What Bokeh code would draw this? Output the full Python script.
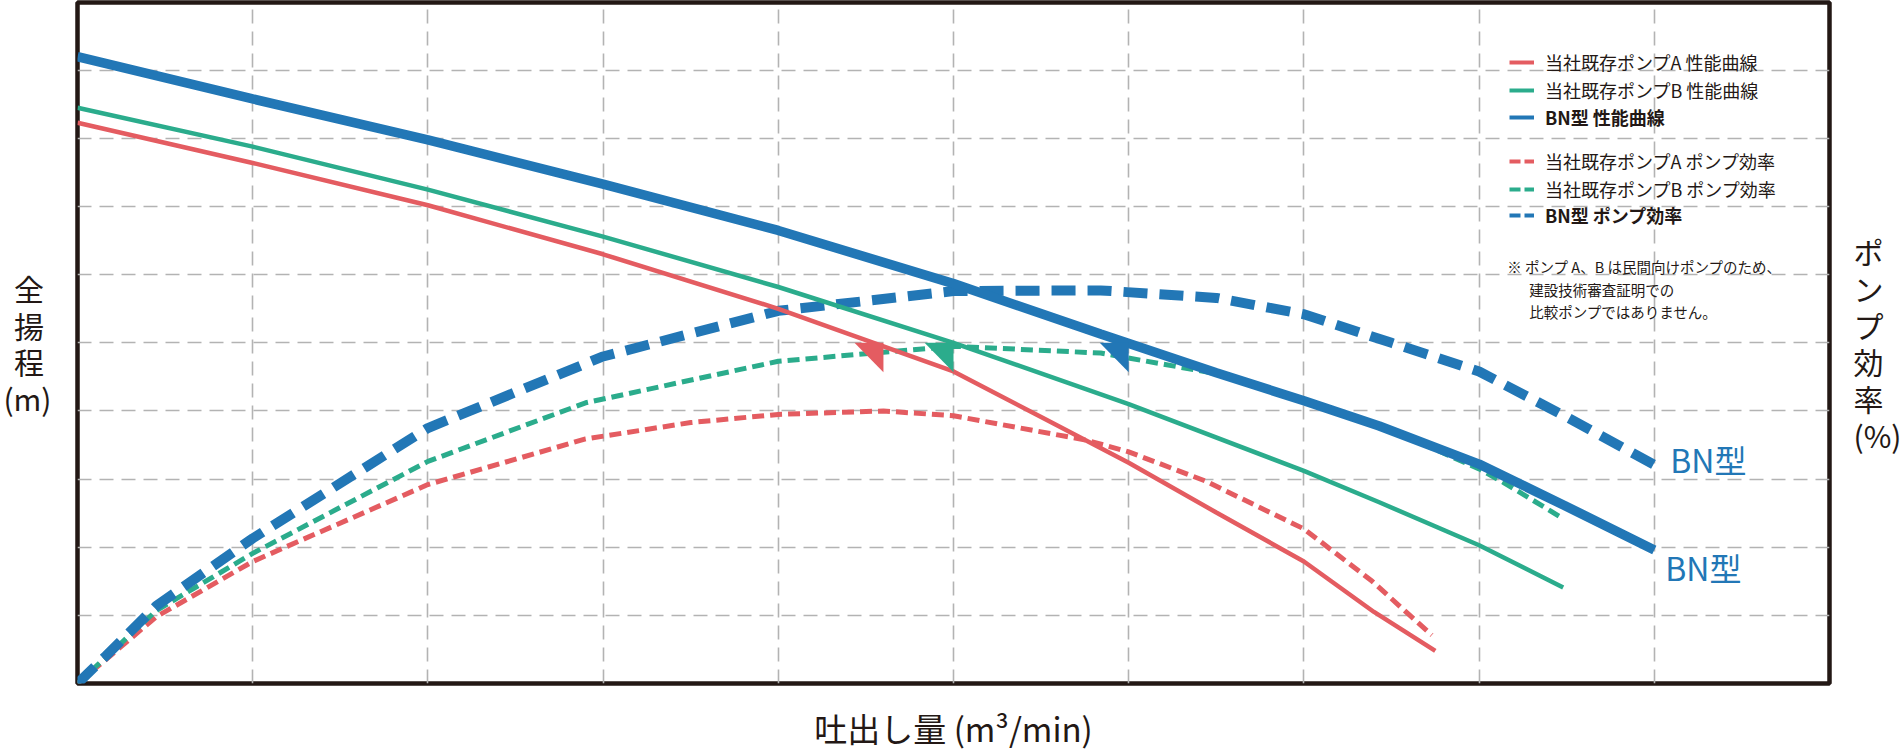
from bokeh.plotting import figure
from bokeh.models import (Range1d, Grid, FixedTicker, Label, Legend, LegendItem,
                          ColumnDataSource, LinearAxis)
from bokeh.embed import file_html
from bokeh.resources import INLINE

# ---------------- data (grid units) ----------------
grid_ticks = [1, 2, 3, 4, 5, 6, 7, 8, 9]

# head curves (全揚程)
a_head_q = [0, 1, 2, 3, 4, 4.6, 5, 5.5, 6, 6.5, 7, 7.4, 7.75]
a_head_h = [8.23, 7.64, 7.02, 6.30, 5.50, 4.95, 4.58, 3.91, 3.24, 2.51, 1.79, 1.05, 0.48]
b_head_q = [0, 1, 2, 3, 4, 5, 6, 7, 7.43, 8, 8.48]
b_head_h = [8.45, 7.88, 7.25, 6.56, 5.82, 5.00, 4.10, 3.12, 2.66, 2.03, 1.41]
bn_head_q = [0, 1, 2, 3, 4, 5, 5.84, 6.5, 7, 7.43, 8, 8.49, 9]
bn_head_h = [9.20, 8.58, 7.98, 7.33, 6.65, 5.87, 5.13, 4.56, 4.15, 3.78, 3.22, 2.61, 1.96]

# efficiency curves (ポンプ効率)
a_eff_q = [0, 0.45, 1, 2, 2.9, 3.5, 4, 4.6, 5, 5.76, 6, 6.44, 7, 7.39, 7.73]
a_eff_e = [0, 0.98, 1.79, 2.92, 3.59, 3.83, 3.95, 4.00, 3.93, 3.57, 3.40, 2.97, 2.27, 1.50, 0.71]
b_eff_q = [0, 0.45, 1, 2, 2.9, 4, 5, 5.84, 6.54, 7, 7.5, 8, 8.14, 8.48]
b_eff_e = [0, 1.07, 1.91, 3.26, 4.12, 4.73, 4.95, 4.85, 4.53, 4.13, 3.72, 3.15, 2.95, 2.42]
bn_eff_q = [0, 0.16, 0.45, 1, 2, 3, 4, 5, 5.84, 6.5, 7, 7.5, 8, 8.5, 9]
bn_eff_e = [0, 0.40, 1.14, 2.13, 3.75, 4.80, 5.47, 5.76, 5.77, 5.66, 5.42, 5.00, 4.58, 3.91, 3.21]

# rated points (triangles)
bep_q = [4.6, 5.0, 6.0]
bep_h = [5.0, 5.0, 5.0]

legend_labels = ["当社既存ポンプA 性能曲線", "当社既存ポンプB 性能曲線", "BN型 性能曲線",
                 "当社既存ポンプA ポンプ効率", "当社既存ポンプB ポンプ効率", "BN型 ポンプ効率"]
note_lines = ["※ ポンプ A、B は民間向けポンプのため、", "建設技術審査証明での", "比較ポンプではありません。"]
x_title = "吐出し量 (m³/min)"
y_title_chars = ["全", "揚", "程", "(m)"]
y2_title_chars = ["ポ", "ン", "プ", "効", "率", "(%)"]
bn_label = "BN型"

# ---------------- style ----------------
RED, GREEN, BLUE = "#e45c61", "#2bac8c", "#2277b6"
INK = "#231815"
FONT = "Noto Sans CJK JP"
W, H = 1904, 754
ML, MR, MT, MB = 75, 73, 2, 59
FRAME_W, FRAME_H = W - ML - MR, H - MT - MB
PX_X = FRAME_W / 10.0
PX_Y = 69.33
Y_TOP = FRAME_H / PX_Y
PAD = "\u2005"   # small pad so single kanji sit centred over the wider bracket line


def dx(px):
    return px / PX_X


def dy(px):
    return px / PX_Y


p = figure(width=W, height=H, x_range=Range1d(0, 10), y_range=Range1d(0, Y_TOP),
           x_axis_type=None, y_axis_type=None, toolbar_location=None,
           output_backend="svg", title=None,
           min_border_left=ML, min_border_right=MR, min_border_top=MT, min_border_bottom=MB)
p.outline_line_color = INK
p.outline_line_width = 4.5
p.background_fill_color = "white"
p.border_fill_color = "white"

for dim in (0, 1):
    p.add_layout(Grid(dimension=dim, ticker=FixedTicker(ticks=grid_ticks),
                      grid_line_color="#b3b3b3", grid_line_width=1.6, grid_line_dash="14 8"))


# axis titles via tick-less axes
def title_axis(label, standoff, orient, size, line_height):
    return LinearAxis(ticker=FixedTicker(ticks=[]), axis_label=label,
                      axis_label_standoff=standoff, axis_label_orientation=orient,
                      axis_line_color=None, major_tick_line_color=None,
                      minor_tick_line_color=None, major_tick_out=0, major_tick_in=0,
                      major_label_standoff=0, major_label_text_font_size="0px",
                      axis_label_text_font=FONT, axis_label_text_font_size=size,
                      axis_label_text_font_style="normal", axis_label_text_color=INK,
                      axis_label_text_align="center", axis_label_text_line_height=line_height)


y_title = "\n".join(c + PAD if len(c) == 1 else c for c in y_title_chars)
y2_title = "\n".join(y2_title_chars)
p.add_layout(title_axis(x_title, 20, "parallel", "33px", 1.2), "below")
p.add_layout(title_axis(y_title, 26, "horizontal", "30px", 0.83), "left")
p.add_layout(title_axis(y2_title, 24, "horizontal", "30px", 0.84), "right")

# efficiency curves
p.line(a_eff_q, a_eff_e, line_color=RED, line_width=5, line_dash="12 6")
p.line(b_eff_q, b_eff_e, line_color=GREEN, line_width=5, line_dash="12 6")
p.line(bn_eff_q, bn_eff_e, line_color=BLUE, line_width=10, line_dash="24 12")

# head curves
p.line(a_head_q, a_head_h, line_color=RED, line_width=4.5)
p.line(b_head_q, b_head_h, line_color=GREEN, line_width=4.5)
p.line(bn_head_q, bn_head_h, line_color=BLUE, line_width=9.5)

# triangles at rated points
tw, th = dx(29), dy(30)
p.patches(xs=[[q - tw, q, q] for q in bep_q], ys=[[h, h, h - th] for h in bep_h],
          fill_color=[RED, GREEN, BLUE], line_color=None)


# legend proxies (thin swatches, nothing drawn in the plot)
def proxy(color, dash):
    return p.line(x="x", y="y", source=ColumnDataSource(dict(x=[float("nan")], y=[float("nan")])),
                  line_color=color, line_width=4, line_dash=dash)


proxies = [proxy(c, "solid") for c in (RED, GREEN, BLUE)] + [proxy(c, "11 4") for c in (RED, GREEN, BLUE)]
row_centers_px = [72, 99.5, 127, 171, 198.5, 225]   # from frame top
ITEM_H = 30
for lab, r, cy in zip(legend_labels, proxies, row_centers_px):
    lg = Legend(items=[LegendItem(label=lab, renderers=[r])],
                location=(1432, FRAME_H - (cy + ITEM_H / 2)),
                glyph_width=25, glyph_height=ITEM_H, label_height=ITEM_H,
                label_standoff=11, spacing=0, padding=0, margin=0,
                border_line_color=None, background_fill_alpha=0,
                label_text_font=FONT, label_text_font_size="18px",
                label_text_color=INK,
                label_text_font_style="bold" if lab.startswith("BN") else "normal")
    p.add_layout(lg)

# note
note_x = [8.161, 8.286, 8.286]
note_y = [6.12, 5.78, 5.46]
for t, x, y in zip(note_lines, note_x, note_y):
    p.add_layout(Label(x=x, y=y, text=t, text_font=FONT, text_font_size="14.5px",
                       text_color=INK, text_baseline="middle", text_align="left"))

# BN labels at curve ends
p.add_layout(Label(x=bn_eff_q[-1], y=bn_eff_e[-1], x_offset=16, y_offset=6, text=bn_label,
                   text_font=FONT, text_font_size="32px", text_color=BLUE,
                   text_baseline="middle", text_align="left"))
p.add_layout(Label(x=bn_head_q[-1], y=bn_head_h[-1], x_offset=11, y_offset=-17, text=bn_label,
                   text_font=FONT, text_font_size="32px", text_color=BLUE,
                   text_baseline="middle", text_align="left"))

open("out.html", "w").write(file_html(p, INLINE))
